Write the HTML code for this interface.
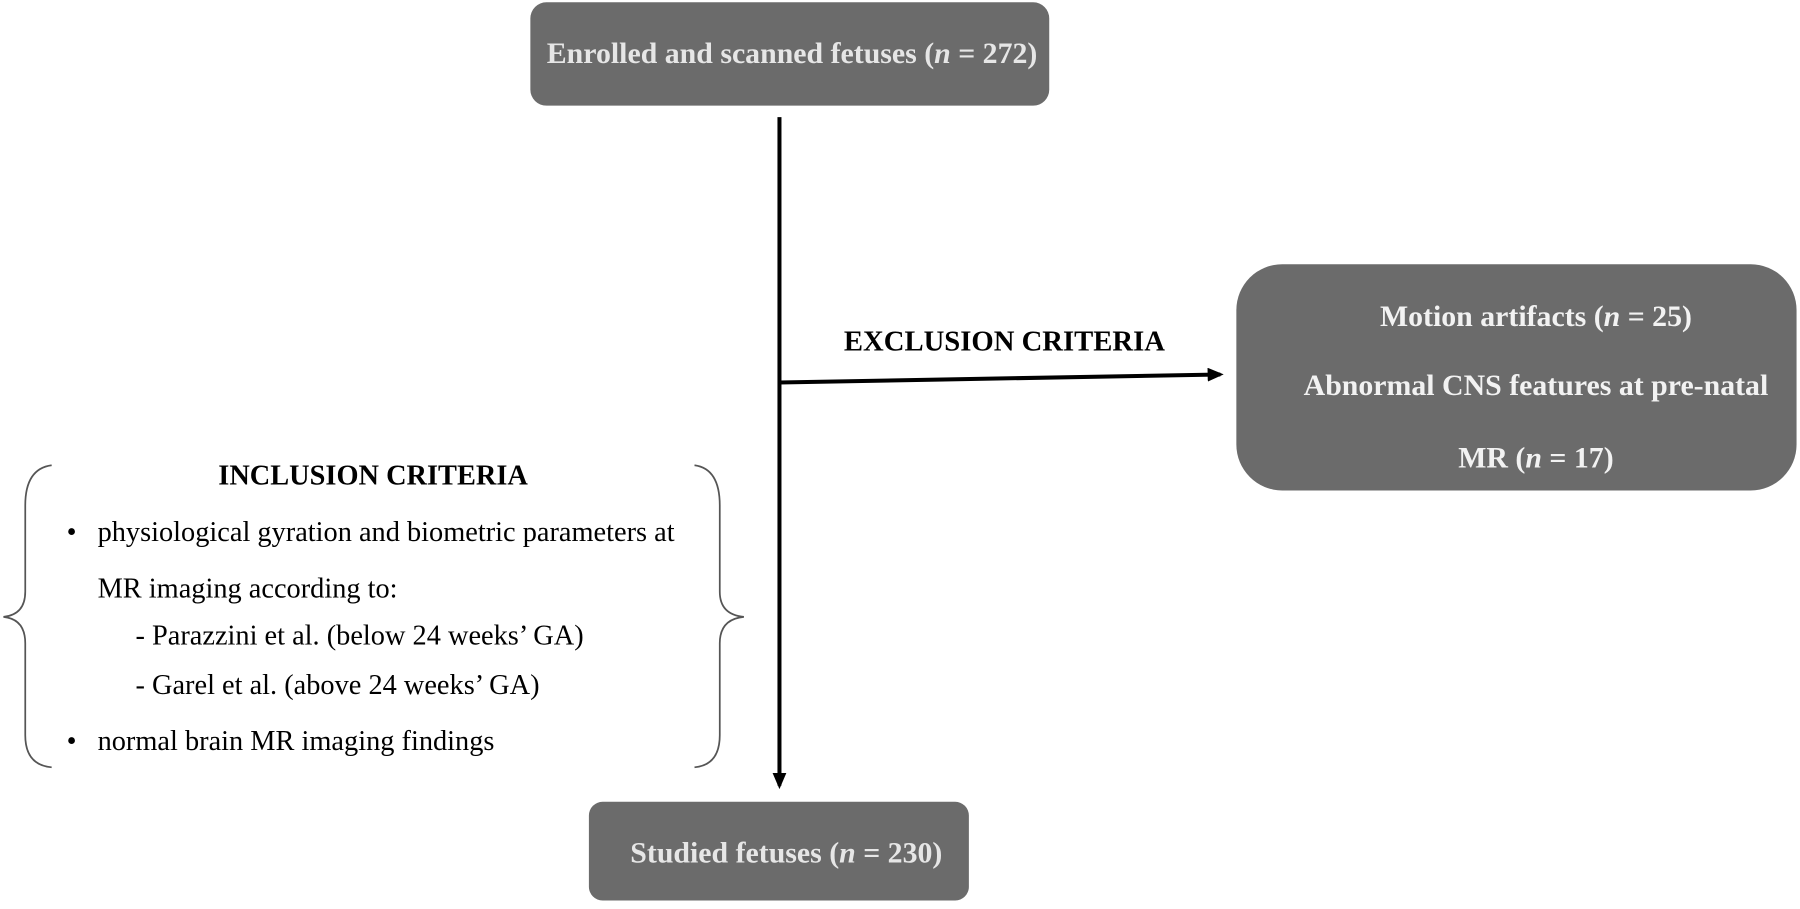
<!DOCTYPE html>
<html><head><style>body{margin:0;background:#fff}</style></head><body>
<svg width="1800" height="904" viewBox="0 0 1568 787" preserveAspectRatio="none" xmlns="http://www.w3.org/2000/svg" font-family="Liberation Serif, serif">
<defs><marker id="a" markerWidth="14" markerHeight="12" refX="11" refY="6" orient="auto" markerUnits="userSpaceOnUse"><path d="M0,0 L14,6 L0,12z" fill="#000"/></marker></defs>
<rect x="462" y="2" width="452" height="90" rx="14" fill="#6b6b6b"/>
<text x="690" y="55" text-anchor="middle" font-size="26" font-weight="bold" fill="#e6e6e6">Enrolled and scanned fetuses (<tspan font-style="italic">n</tspan> = 272)</text>
<line x1="679" y1="102" x2="679" y2="684" stroke="#000" stroke-width="3.5" marker-end="url(#a)"/>
<line x1="679" y1="333" x2="1063" y2="326" stroke="#000" stroke-width="3.5" marker-end="url(#a)"/>
<text x="875" y="305" text-anchor="middle" font-size="25" font-weight="bold">EXCLUSION CRITERIA</text>
<rect x="1077" y="230" width="488" height="197" rx="40" fill="#6b6b6b"/>
<g font-size="26" font-weight="bold" fill="#f2f2f2" text-anchor="middle">
<text x="1338" y="284">Motion artifacts (<tspan font-style="italic">n</tspan> = 25)</text>
<text x="1338" y="344">Abnormal CNS features at pre-natal</text>
<text x="1338" y="407">MR (<tspan font-style="italic">n</tspan> = 17)</text>
</g>
<rect x="513" y="698" width="331" height="86" rx="12" fill="#6b6b6b"/>
<text x="685" y="751" text-anchor="middle" font-size="26" font-weight="bold" fill="#e6e6e6">Studied fetuses (<tspan font-style="italic">n</tspan> = 230)</text>
<path d="M45,405 Q22,408 22,440 L22,515 Q22,535 3,537 Q22,539 22,560 L22,640 Q22,666 45,668" fill="none" stroke="#555" stroke-width="1.5"/>
<path d="M605,405 Q627,408 627,440 L627,515 Q627,535 648,537 Q627,539 627,560 L627,640 Q627,666 605,668" fill="none" stroke="#555" stroke-width="1.5"/>
<g font-size="24.7">
<text x="325" y="422" text-anchor="middle" font-weight="bold">INCLUSION CRITERIA</text>
<text x="58" y="471">•</text><text x="85" y="471">physiological gyration and biometric parameters at</text>
<text x="85" y="520">MR imaging according to:</text>
<text x="118" y="561">- Parazzini et al. (below 24 weeks’ GA)</text>
<text x="118" y="604">-  Garel et al. (above 24 weeks’ GA)</text>
<text x="58" y="653">•</text><text x="85" y="653">normal brain MR imaging findings</text>
</g>
</svg>
</body></html>
